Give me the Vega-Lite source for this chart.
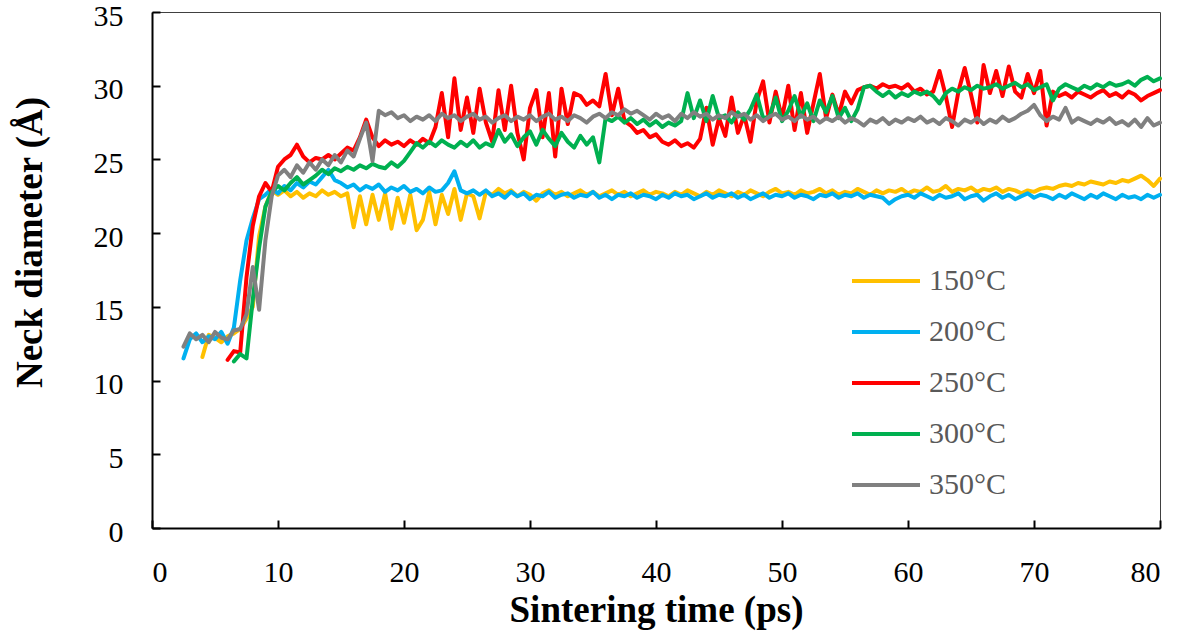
{
  "$schema": "https://vega.github.io/schema/vega-lite/v6.json",
  "width": 1008,
  "height": 516,
  "autosize": {"type": "none"},
  "padding": {"left": 152, "top": 12, "right": 20, "bottom": 114},
  "background": "white",
  "config": {"view": {"stroke": "#404040", "strokeWidth": 1}, "font": "Liberation Serif"},
  "data": {"values": [
    {"t":2.5,"200°C":11.5,"350°C":12.3},
    {"t":3.0,"200°C":12.8,"350°C":13.2},
    {"t":3.5,"200°C":13.2,"350°C":12.8},
    {"t":4.0,"150°C":11.6,"200°C":12.6,"350°C":13.1},
    {"t":4.5,"150°C":13.1,"200°C":13.0,"350°C":12.6},
    {"t":5.0,"150°C":12.9,"200°C":12.8,"350°C":13.3},
    {"t":5.5,"150°C":12.6,"200°C":13.3,"350°C":12.9},
    {"t":6.0,"150°C":13.0,"200°C":12.5,"250°C":11.4,"350°C":12.8},
    {"t":6.5,"150°C":13.2,"200°C":13.6,"250°C":12.0,"300°C":11.3,"350°C":13.4},
    {"t":7.0,"150°C":13.5,"200°C":16.8,"250°C":11.9,"300°C":11.8,"350°C":13.5},
    {"t":7.5,"150°C":14.2,"200°C":19.5,"250°C":17.0,"300°C":11.5,"350°C":14.5},
    {"t":8.0,"150°C":15.0,"200°C":21.0,"250°C":20.5,"300°C":15.5,"350°C":17.7},
    {"t":8.5,"150°C":19.8,"200°C":22.3,"250°C":22.5,"300°C":19.0,"350°C":14.8},
    {"t":9.0,"150°C":21.8,"200°C":22.6,"250°C":23.4,"300°C":21.8,"350°C":19.5},
    {"t":9.5,"150°C":22.9,"200°C":23.0,"250°C":22.8,"300°C":22.8,"350°C":22.5},
    {"t":10.0,"150°C":22.6,"200°C":22.7,"250°C":24.5,"300°C":23.2,"350°C":23.9},
    {"t":10.5,"150°C":22.9,"200°C":23.2,"250°C":25.0,"300°C":22.9,"350°C":24.3},
    {"t":11.0,"150°C":22.5,"200°C":22.9,"250°C":25.3,"300°C":23.4,"350°C":23.8},
    {"t":11.5,"150°C":22.8,"200°C":23.4,"250°C":26.0,"300°C":23.8,"350°C":24.6},
    {"t":12.0,"150°C":22.4,"200°C":23.1,"250°C":25.2,"300°C":23.3,"350°C":24.1},
    {"t":12.5,"150°C":22.7,"200°C":23.5,"250°C":24.8,"300°C":23.6,"350°C":24.8},
    {"t":13.0,"150°C":22.5,"200°C":23.3,"250°C":25.1,"300°C":23.9,"350°C":24.3},
    {"t":13.5,"150°C":22.9,"200°C":23.8,"250°C":25.0,"300°C":24.3,"350°C":25.0},
    {"t":14.0,"150°C":22.6,"200°C":24.3,"250°C":25.3,"300°C":24.0,"350°C":24.6},
    {"t":14.5,"150°C":22.8,"200°C":23.6,"250°C":25.0,"300°C":24.4,"350°C":25.3},
    {"t":15.0,"150°C":22.5,"200°C":23.4,"250°C":25.4,"300°C":24.2,"350°C":24.8},
    {"t":15.5,"150°C":22.7,"200°C":23.1,"250°C":25.8,"300°C":24.5,"350°C":25.6},
    {"t":16.0,"150°C":20.4,"200°C":23.3,"250°C":25.6,"300°C":24.3,"350°C":25.2},
    {"t":16.5,"150°C":22.5,"200°C":22.9,"250°C":26.5,"300°C":24.6,"350°C":26.4},
    {"t":17.0,"150°C":20.6,"200°C":23.2,"250°C":27.7,"300°C":24.4,"350°C":27.5},
    {"t":17.5,"150°C":22.6,"200°C":23.0,"250°C":26.5,"300°C":24.7,"350°C":24.9},
    {"t":18.0,"150°C":20.9,"200°C":23.3,"250°C":25.9,"300°C":24.5,"350°C":28.3},
    {"t":18.5,"150°C":22.7,"200°C":22.8,"250°C":26.3,"300°C":24.4,"350°C":28.0},
    {"t":19.0,"150°C":20.3,"200°C":23.1,"250°C":26.0,"300°C":24.8,"350°C":28.2},
    {"t":19.5,"150°C":22.4,"200°C":22.9,"250°C":26.2,"300°C":24.5,"350°C":27.8},
    {"t":20.0,"150°C":20.7,"200°C":23.2,"250°C":25.9,"300°C":24.9,"350°C":28.0},
    {"t":20.5,"150°C":22.6,"200°C":22.8,"250°C":26.3,"300°C":25.5,"350°C":27.6},
    {"t":21.0,"150°C":20.2,"200°C":23.0,"250°C":26.0,"300°C":26.1,"350°C":27.9},
    {"t":21.5,"150°C":20.9,"200°C":22.7,"250°C":26.4,"300°C":25.8,"350°C":27.7},
    {"t":22.0,"150°C":22.8,"200°C":23.1,"250°C":26.1,"300°C":26.2,"350°C":28.0},
    {"t":22.5,"150°C":20.6,"200°C":22.8,"250°C":27.2,"300°C":25.9,"350°C":27.6},
    {"t":23.0,"150°C":22.6,"200°C":22.9,"250°C":29.5,"300°C":26.3,"350°C":28.1},
    {"t":23.5,"150°C":21.3,"200°C":23.4,"250°C":26.5,"300°C":26.0,"350°C":27.8},
    {"t":24.0,"150°C":23.0,"200°C":24.2,"250°C":30.5,"300°C":25.8,"350°C":28.0},
    {"t":24.5,"150°C":20.9,"200°C":22.9,"250°C":27.0,"300°C":26.2,"350°C":27.6},
    {"t":25.0,"150°C":22.7,"200°C":22.7,"250°C":29.2,"300°C":25.9,"350°C":27.9},
    {"t":25.5,"150°C":22.5,"200°C":22.9,"250°C":26.8,"300°C":26.3,"350°C":28.1},
    {"t":26.0,"150°C":21.0,"200°C":22.6,"250°C":29.8,"300°C":25.8,"350°C":27.7},
    {"t":26.5,"150°C":22.8,"200°C":22.9,"250°C":27.5,"300°C":26.1,"350°C":27.9},
    {"t":27.0,"150°C":22.6,"200°C":22.5,"250°C":26.2,"300°C":25.9,"350°C":27.5},
    {"t":27.5,"150°C":23.0,"200°C":22.7,"250°C":29.7,"300°C":27.0,"350°C":27.8},
    {"t":28.0,"150°C":22.7,"200°C":22.4,"250°C":27.0,"300°C":26.2,"350°C":28.0},
    {"t":28.5,"150°C":22.9,"200°C":22.8,"250°C":30.0,"300°C":26.7,"350°C":27.6},
    {"t":29.0,"150°C":22.5,"200°C":22.5,"250°C":26.8,"300°C":25.9,"350°C":27.9},
    {"t":29.5,"150°C":22.8,"200°C":22.7,"250°C":25.0,"300°C":26.5,"350°C":27.7},
    {"t":30.0,"150°C":22.6,"200°C":22.3,"250°C":28.5,"300°C":26.9,"350°C":28.0},
    {"t":30.5,"150°C":22.2,"200°C":22.6,"250°C":29.7,"300°C":26.0,"350°C":27.6},
    {"t":31.0,"150°C":22.7,"200°C":22.5,"250°C":26.5,"300°C":27.0,"350°C":27.9},
    {"t":31.5,"150°C":22.9,"200°C":22.8,"250°C":29.5,"300°C":26.4,"350°C":28.1},
    {"t":32.0,"150°C":22.6,"200°C":22.4,"250°C":25.2,"300°C":25.9,"350°C":27.7},
    {"t":32.5,"150°C":22.8,"200°C":22.6,"250°C":29.8,"300°C":26.8,"350°C":27.9},
    {"t":33.0,"150°C":22.5,"200°C":22.7,"250°C":27.4,"300°C":26.2,"350°C":27.6},
    {"t":33.5,"150°C":22.7,"200°C":22.4,"250°C":29.5,"300°C":25.8,"350°C":28.0},
    {"t":34.0,"150°C":22.9,"200°C":22.6,"250°C":29.3,"300°C":26.6,"350°C":27.8},
    {"t":34.5,"150°C":22.6,"200°C":22.5,"250°C":28.7,"300°C":26.0,"350°C":27.5},
    {"t":35.0,"150°C":22.8,"200°C":22.8,"250°C":29.0,"300°C":26.5,"350°C":27.9},
    {"t":35.5,"150°C":22.5,"200°C":22.4,"250°C":28.6,"300°C":24.8,"350°C":28.1},
    {"t":36.0,"150°C":22.7,"200°C":22.6,"250°C":30.8,"300°C":27.8,"350°C":27.8},
    {"t":36.5,"150°C":22.9,"200°C":22.3,"250°C":28.0,"300°C":27.6,"350°C":28.2},
    {"t":37.0,"150°C":22.6,"200°C":22.6,"250°C":29.8,"300°C":27.9,"350°C":28.0},
    {"t":37.5,"150°C":22.8,"200°C":22.5,"250°C":27.6,"300°C":27.5,"350°C":28.4},
    {"t":38.0,"150°C":22.5,"200°C":22.7,"250°C":27.3,"300°C":27.8,"350°C":28.1},
    {"t":38.5,"150°C":22.7,"200°C":22.4,"250°C":26.8,"300°C":27.4,"350°C":28.3},
    {"t":39.0,"150°C":22.9,"200°C":22.6,"250°C":27.0,"300°C":27.7,"350°C":28.0},
    {"t":39.5,"150°C":22.6,"200°C":22.5,"250°C":26.5,"300°C":27.3,"350°C":27.7},
    {"t":40.0,"150°C":22.8,"200°C":22.3,"250°C":26.7,"300°C":27.6,"350°C":28.1},
    {"t":40.5,"150°C":22.7,"200°C":22.6,"250°C":26.2,"300°C":27.2,"350°C":27.8},
    {"t":41.0,"150°C":22.5,"200°C":22.4,"250°C":26.0,"300°C":27.5,"350°C":28.0},
    {"t":41.5,"150°C":22.8,"200°C":22.7,"250°C":26.3,"300°C":27.3,"350°C":27.6},
    {"t":42.0,"150°C":22.6,"200°C":22.5,"250°C":25.9,"300°C":27.6,"350°C":28.1},
    {"t":42.5,"150°C":22.9,"200°C":22.6,"250°C":26.1,"300°C":29.5,"350°C":27.8},
    {"t":43.0,"150°C":22.7,"200°C":22.3,"250°C":25.8,"300°C":27.8,"350°C":28.2},
    {"t":43.5,"150°C":22.5,"200°C":22.5,"250°C":26.4,"300°C":29.0,"350°C":27.9},
    {"t":44.0,"150°C":22.8,"200°C":22.7,"250°C":28.5,"300°C":27.6,"350°C":28.1},
    {"t":44.5,"150°C":22.6,"200°C":22.4,"250°C":26.0,"300°C":29.3,"350°C":27.7},
    {"t":45.0,"150°C":22.9,"200°C":22.6,"250°C":27.8,"300°C":27.8,"350°C":28.0},
    {"t":45.5,"150°C":22.7,"200°C":22.5,"250°C":26.6,"300°C":28.0,"350°C":27.8},
    {"t":46.0,"150°C":22.5,"200°C":22.7,"250°C":29.2,"300°C":27.5,"350°C":28.2},
    {"t":46.5,"150°C":22.8,"200°C":22.4,"250°C":26.8,"300°C":28.2,"350°C":27.9},
    {"t":47.0,"150°C":22.6,"200°C":22.6,"250°C":28.0,"300°C":27.7,"350°C":28.1},
    {"t":47.5,"150°C":22.9,"200°C":22.3,"250°C":26.2,"300°C":28.4,"350°C":27.7},
    {"t":48.0,"150°C":22.7,"200°C":22.5,"250°C":29.0,"300°C":29.4,"350°C":28.0},
    {"t":48.5,"150°C":22.5,"200°C":22.7,"250°C":30.3,"300°C":27.8,"350°C":27.6},
    {"t":49.0,"150°C":22.8,"200°C":22.4,"250°C":27.5,"300°C":27.9,"350°C":27.9},
    {"t":49.5,"150°C":23.0,"200°C":22.6,"250°C":29.6,"300°C":29.2,"350°C":28.1},
    {"t":50.0,"150°C":22.7,"200°C":22.5,"250°C":27.8,"300°C":27.6,"350°C":27.7},
    {"t":50.5,"150°C":22.8,"200°C":22.7,"250°C":30.0,"300°C":28.3,"350°C":27.9},
    {"t":51.0,"150°C":22.6,"200°C":22.4,"250°C":27.0,"300°C":29.3,"350°C":27.6},
    {"t":51.5,"150°C":22.9,"200°C":22.6,"250°C":29.5,"300°C":27.9,"350°C":28.0},
    {"t":52.0,"150°C":22.7,"200°C":22.5,"250°C":26.8,"300°C":28.8,"350°C":27.7},
    {"t":52.5,"150°C":22.8,"200°C":22.3,"250°C":28.8,"300°C":27.6,"350°C":27.9},
    {"t":53.0,"150°C":23.0,"200°C":22.6,"250°C":30.8,"300°C":29.0,"350°C":27.5},
    {"t":53.5,"150°C":22.7,"200°C":22.5,"250°C":27.8,"300°C":28.2,"350°C":27.8},
    {"t":54.0,"150°C":22.9,"200°C":22.7,"250°C":29.4,"300°C":29.3,"350°C":27.6},
    {"t":54.5,"150°C":22.6,"200°C":22.4,"250°C":28.0,"300°C":27.8,"350°C":27.9},
    {"t":55.0,"150°C":22.8,"200°C":22.6,"250°C":29.6,"300°C":28.5,"350°C":27.5},
    {"t":55.5,"150°C":22.7,"200°C":22.5,"250°C":28.8,"300°C":27.6,"350°C":27.8},
    {"t":56.0,"150°C":23.0,"200°C":22.7,"250°C":29.7,"300°C":28.4,"350°C":27.6},
    {"t":56.5,"150°C":22.8,"200°C":22.4,"250°C":29.9,"300°C":29.9,"350°C":27.3},
    {"t":57.0,"150°C":22.6,"200°C":22.6,"250°C":30.0,"300°C":30.0,"350°C":27.7},
    {"t":57.5,"150°C":22.9,"200°C":22.5,"250°C":29.8,"300°C":29.6,"350°C":27.5},
    {"t":58.0,"150°C":22.7,"200°C":22.4,"250°C":30.1,"300°C":29.3,"350°C":27.8},
    {"t":58.5,"150°C":22.9,"200°C":22.0,"250°C":29.9,"300°C":29.6,"350°C":27.4},
    {"t":59.0,"150°C":22.8,"200°C":22.3,"250°C":30.0,"300°C":29.2,"350°C":27.7},
    {"t":59.5,"150°C":23.0,"200°C":22.5,"250°C":29.8,"300°C":29.5,"350°C":27.5},
    {"t":60.0,"150°C":22.7,"200°C":22.6,"250°C":30.1,"300°C":29.3,"350°C":27.8},
    {"t":60.5,"150°C":22.9,"200°C":22.4,"250°C":29.6,"300°C":29.6,"350°C":27.6},
    {"t":61.0,"150°C":22.8,"200°C":22.7,"250°C":29.8,"300°C":29.4,"350°C":27.9},
    {"t":61.5,"150°C":23.1,"200°C":22.5,"250°C":29.4,"300°C":29.6,"350°C":27.5},
    {"t":62.0,"150°C":22.8,"200°C":22.3,"250°C":29.6,"300°C":29.3,"350°C":27.7},
    {"t":62.5,"150°C":22.9,"200°C":22.6,"250°C":31.0,"300°C":28.8,"350°C":27.4},
    {"t":63.0,"150°C":23.2,"200°C":22.4,"250°C":29.3,"300°C":29.5,"350°C":27.8},
    {"t":63.5,"150°C":22.8,"200°C":22.5,"250°C":27.2,"300°C":29.8,"350°C":27.6},
    {"t":64.0,"150°C":23.0,"200°C":22.7,"250°C":29.6,"300°C":29.6,"350°C":27.3},
    {"t":64.5,"150°C":22.9,"200°C":22.3,"250°C":31.2,"300°C":29.9,"350°C":27.7},
    {"t":65.0,"150°C":23.1,"200°C":22.5,"250°C":29.4,"300°C":29.7,"350°C":27.5},
    {"t":65.5,"150°C":22.8,"200°C":22.6,"250°C":27.5,"300°C":30.0,"350°C":27.8},
    {"t":66.0,"150°C":23.0,"200°C":22.2,"250°C":31.4,"300°C":29.8,"350°C":27.4},
    {"t":66.5,"150°C":22.9,"200°C":22.5,"250°C":29.5,"300°C":29.9,"350°C":27.7},
    {"t":67.0,"150°C":23.1,"200°C":22.7,"250°C":31.0,"300°C":30.1,"350°C":27.5},
    {"t":67.5,"150°C":22.8,"200°C":22.4,"250°C":29.3,"300°C":29.8,"350°C":27.9},
    {"t":68.0,"150°C":23.0,"200°C":22.6,"250°C":31.3,"300°C":30.0,"350°C":27.6},
    {"t":68.5,"150°C":22.9,"200°C":22.3,"250°C":29.6,"300°C":30.2,"350°C":27.8},
    {"t":69.0,"150°C":22.7,"200°C":22.5,"250°C":29.2,"300°C":29.9,"350°C":28.1},
    {"t":69.5,"150°C":22.9,"200°C":22.7,"250°C":30.8,"300°C":30.1,"350°C":28.3},
    {"t":70.0,"150°C":22.8,"200°C":22.4,"250°C":29.5,"300°C":29.7,"350°C":28.7},
    {"t":70.5,"150°C":23.0,"200°C":22.6,"250°C":31.0,"300°C":29.9,"350°C":28.0},
    {"t":71.0,"150°C":23.1,"200°C":22.5,"250°C":27.3,"300°C":30.1,"350°C":27.6},
    {"t":71.5,"150°C":23.0,"200°C":22.3,"250°C":29.6,"300°C":29.0,"350°C":27.9},
    {"t":72.0,"150°C":23.2,"200°C":22.6,"250°C":29.3,"300°C":29.8,"350°C":27.7},
    {"t":72.5,"150°C":23.3,"200°C":22.4,"250°C":29.5,"300°C":30.1,"350°C":28.5},
    {"t":73.0,"150°C":23.2,"200°C":22.7,"250°C":29.2,"300°C":29.9,"350°C":27.5},
    {"t":73.5,"150°C":23.4,"200°C":22.5,"250°C":29.6,"300°C":29.7,"350°C":27.8},
    {"t":74.0,"150°C":23.3,"200°C":22.3,"250°C":29.4,"300°C":30.0,"350°C":27.6},
    {"t":74.5,"150°C":23.5,"200°C":22.6,"250°C":29.2,"300°C":29.8,"350°C":27.4},
    {"t":75.0,"150°C":23.4,"200°C":22.4,"250°C":29.5,"300°C":30.1,"350°C":27.7},
    {"t":75.5,"150°C":23.3,"200°C":22.7,"250°C":29.7,"300°C":29.9,"350°C":27.5},
    {"t":76.0,"150°C":23.5,"200°C":22.5,"250°C":29.3,"300°C":30.2,"350°C":27.8},
    {"t":76.5,"150°C":23.4,"200°C":22.3,"250°C":29.5,"300°C":30.0,"350°C":27.4},
    {"t":77.0,"150°C":23.6,"200°C":22.6,"250°C":29.2,"300°C":30.1,"350°C":27.6},
    {"t":77.5,"150°C":23.5,"200°C":22.4,"250°C":29.6,"300°C":30.3,"350°C":27.3},
    {"t":78.0,"150°C":23.7,"200°C":22.5,"250°C":29.4,"300°C":30.0,"350°C":27.7},
    {"t":78.5,"150°C":23.9,"200°C":22.3,"250°C":29.0,"300°C":30.4,"350°C":27.2},
    {"t":79.0,"150°C":23.6,"200°C":22.6,"250°C":29.3,"300°C":30.6,"350°C":27.8},
    {"t":79.5,"150°C":23.2,"200°C":22.4,"250°C":29.5,"300°C":30.3,"350°C":27.3},
    {"t":80.0,"150°C":23.7,"200°C":22.6,"250°C":29.7,"300°C":30.5,"350°C":27.5}
  ]},
  "transform": [{"fold": ["150°C", "200°C", "250°C", "300°C", "350°C"], "as": ["series", "value"]}],
  "encoding": {
    "x": {
      "field": "t", "type": "quantitative",
      "scale": {"domain": [0, 80], "nice": false},
      "axis": {
        "title": "Sintering time (ps)", "values": [0, 10, 20, 30, 40, 50, 60, 70, 80],
        "grid": false, "domainColor": "black", "domainWidth": 2,
        "tickColor": "black", "tickWidth": 2, "tickSize": -8,
        "labelFont": "Liberation Serif", "labelFontSize": 30, "labelColor": "black", "labelPadding": 37,
        "titleFont": "Liberation Serif", "titleFontSize": 37, "titleFontWeight": "bold", "titleColor": "black", "titlePadding": 5
      }
    },
    "y": {
      "field": "value", "type": "quantitative",
      "scale": {"domain": [0, 35], "nice": false},
      "axis": {
        "title": "Neck diameter (Å)", "values": [0, 5, 10, 15, 20, 25, 30, 35],
        "grid": false, "domainColor": "black", "domainWidth": 2,
        "tickColor": "black", "tickWidth": 2, "tickSize": -8,
        "labelFont": "Liberation Serif", "labelFontSize": 30, "labelColor": "black", "labelPadding": 37, "labelOffset": 4,
        "titleFont": "Liberation Serif", "titleFontSize": 37, "titleFontWeight": "bold", "titleColor": "black", "titlePadding": 44, "titleY": 230
      }
    },
    "color": {
      "field": "series", "type": "nominal",
      "scale": {"domain": ["150°C", "200°C", "250°C", "300°C", "350°C"], "range": ["#FFC000", "#00B0F0", "#FF0000", "#00B050", "#808080"]},
      "legend": {
        "title": null, "orient": "none", "legendX": 698, "legendY": 254, "padding": 0,
        "symbolType": "stroke", "symbolSize": 4624, "symbolStrokeWidth": 4,
        "labelFont": "Liberation Serif", "labelFontSize": 30, "labelColor": "#595959", "labelOffset": 7,
        "rowPadding": 21, "clipHeight": 30
      }
    }
  },
  "layer": [
    {"transform": [{"filter": "datum.series === '150°C'"}], "mark": {"type": "line", "strokeWidth": 4, "strokeJoin": "round", "strokeCap": "round"}},
    {"transform": [{"filter": "datum.series === '200°C'"}], "mark": {"type": "line", "strokeWidth": 4, "strokeJoin": "round", "strokeCap": "round"}},
    {"transform": [{"filter": "datum.series === '250°C'"}], "mark": {"type": "line", "strokeWidth": 4, "strokeJoin": "round", "strokeCap": "round"}},
    {"transform": [{"filter": "datum.series === '300°C'"}], "mark": {"type": "line", "strokeWidth": 4, "strokeJoin": "round", "strokeCap": "round"}},
    {"transform": [{"filter": "datum.series === '350°C'"}], "mark": {"type": "line", "strokeWidth": 4, "strokeJoin": "round", "strokeCap": "round"}}
  ]
}
